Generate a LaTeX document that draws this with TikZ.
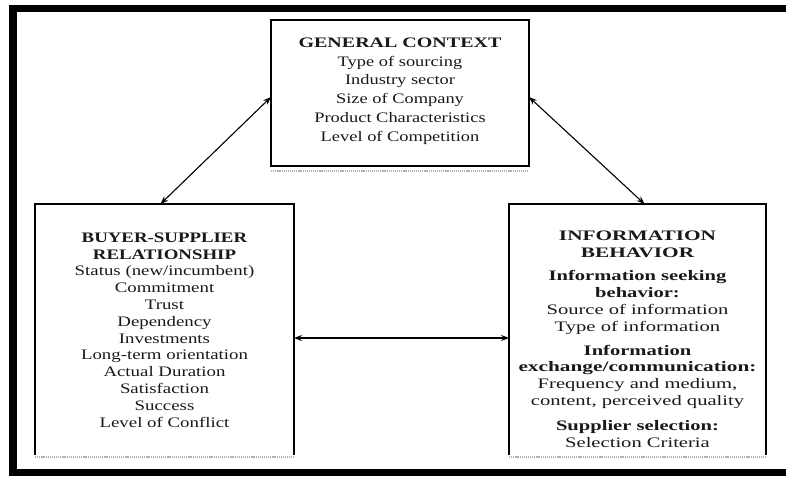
\documentclass[tikz,border=0pt]{standalone}
\usepackage{fontspec}
\usetikzlibrary{arrows.meta,calc}
\newfontfamily\ctxfont[FakeStretch=1.27]{Liberation Serif}
\newfontfamily\ctxhead[FakeStretch=1.38]{Liberation Serif}
\newfontfamily\relfont[FakeStretch=1.3]{Liberation Serif}
\newfontfamily\infofont[FakeStretch=1.42]{Liberation Serif}
\newfontfamily\infohead[FakeStretch=1.47]{Liberation Serif}
\begin{document}
\begin{tikzpicture}[x=1pt,y=1pt,
  panel/.style={draw=none,inner sep=0pt,outer sep=0pt},
  edge/.style={line width=1.4pt,black},
  rule/.style={line width=1.3pt,gray!60,dash pattern=on 1.2pt off 0.9pt},
  link/.style={line width=1.1pt,{Stealth[length=8pt,width=6pt]}-{Stealth[length=8pt,width=6pt]}},
  txt/.style={align=center,inner sep=0pt,text=black!90}]
\useasboundingbox (0,0) rectangle (786,476);
\clip (0,0) rectangle (786,476);

% outer frame, open to the right
\draw[line width=7.5pt,line join=miter] (800,467.5) -- (13,467.5) -- (13,3.5) -- (800,3.5);

% the three panels
\node[panel,minimum width=258pt,minimum height=146pt] (ctx) at (400,383) {};
\node[panel,minimum width=259pt,minimum height=251pt] (rel) at (164.5,146.5) {};
\node[panel,minimum width=257pt,minimum height=251pt] (info) at (637.5,146.5) {};

\draw[edge] (ctx.south west) rectangle (ctx.north east);
\draw[edge] (rel.south west) -- (rel.north west) -- (rel.north east) -- (rel.south east);
\draw[edge] (info.south west) -- (info.north west) -- (info.north east) -- (info.south east);

\draw[rule] ([yshift=-5pt]ctx.south west) -- ([yshift=-5pt]ctx.south east);
\draw[rule] ([yshift=-2pt]rel.south west) -- ([yshift=-2pt]rel.south east);
\draw[rule] ([yshift=-2pt]info.south west) -- ([yshift=-2pt]info.south east);

% panel texts
\node[txt,font=\ctxfont\fontsize{14.5}{18.8}\selectfont] (ctxtext) at (400,385)
  {{\ctxhead\bfseries GENERAL CONTEXT}\\Type of sourcing\\Industry sector\\Size of Company\\Product Characteristics\\Level of Competition};

\node[txt,font=\relfont\fontsize{14.5}{16.8}\selectfont] (reltext) at (164.5,146)
  {\textbf{BUYER-SUPPLIER}\\\textbf{RELATIONSHIP}\\Status (new/incumbent)\\Commitment\\Trust\\Dependency\\Investments\\Long-term orientation\\Actual Duration\\Satisfaction\\Success\\Level of Conflict};

\node[txt,font=\infofont\fontsize{14.5}{16.8}\selectfont] (infotext) at (637.5,137)
  {{\infohead\bfseries INFORMATION}\\{\infohead\bfseries BEHAVIOR}\\[7pt]
   \textbf{Information seeking}\\\textbf{behavior:}\\Source of information\\Type of information\\[7pt]
   \textbf{Information}\\{\infohead\bfseries exchange/communication:}\\Frequency and medium,\\content, perceived quality\\[8pt]
   \textbf{Supplier selection:}\\Selection Criteria};

% connectors
\draw[link] ([yshift=-4pt]ctx.west) -- ([xshift=-4pt]rel.north);
\draw[link] ([yshift=-4pt]ctx.east) -- ([xshift=7pt]info.north);
\draw[link] ([yshift=-8.5pt]rel.east) -- ([yshift=-8.5pt]info.west);
\end{tikzpicture}
\end{document}
